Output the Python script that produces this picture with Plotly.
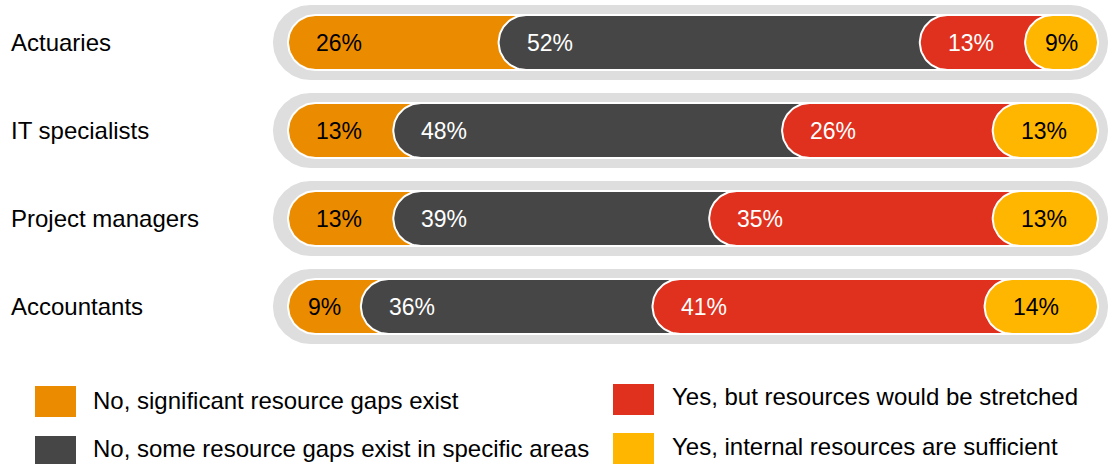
import numpy as np
import plotly.graph_objects as go

# ---- data ---------------------------------------------------------------
categories = ["Actuaries", "IT specialists", "Project managers", "Accountants"]
series_names = [
    "No, significant resource gaps exist",
    "No, some resource gaps exist in specific areas",
    "Yes, but resources would be stretched",
    "Yes, internal resources are sufficient",
]
sig_gaps = [26, 13, 13, 9]
some_gaps = [52, 48, 39, 36]
stretched = [13, 26, 35, 41]
sufficient = [9, 13, 13, 14]

series_values = [sig_gaps, some_gaps, stretched, sufficient]
colors = ["#EB8C00", "#464646", "#E0301E", "#FFB600"]
label_colors = ["#000000", "#FFFFFF", "#FFFFFF", "#000000"]
track_color = "#DEDEDE"

# ---- layout geometry (pixels) -------------------------------------------
W, H = 1109, 464
X0_PX, X100_PX = 288, 1098          # where 0 % and 100 % fall
PXX = (X100_PX - X0_PX) / 100.0     # px per percentage point
ROW0_PX, PXY = 42.5, 88.0           # centre of first row, px per row
BAR_R = 27.5                        # capsule radius of the bars
TRACK_R = 37.5                      # capsule radius of the grey track
TRACK_L_PAD, TRACK_R_PAD = 15, 10   # track overhang beyond the bars

FONT = "Liberation Sans, Arial, sans-serif"

x_range = [(0 - X0_PX) / PXX, (W - X0_PX) / PXX]
y_range = [(H - ROW0_PX) / PXY, (0 - ROW0_PX) / PXY]  # reversed: row 0 on top


def capsule(x0, x1, yc, r_px, n=48):
    """Closed outline of a pill shape in data units, round in screen pixels."""
    rx, ry = r_px / PXX, r_px / PXY
    tl = np.linspace(np.pi / 2, 3 * np.pi / 2, n)
    tr = np.linspace(-np.pi / 2, np.pi / 2, n)
    xs = np.concatenate([x0 + rx + rx * np.cos(tl), x1 - rx + rx * np.cos(tr)])
    ys = np.concatenate([yc + ry * np.sin(tl), yc + ry * np.sin(tr)])
    xs = np.append(xs, xs[0])
    ys = np.append(ys, ys[0])
    return xs, ys


fig = go.Figure()
annotations = []

for row, cat in enumerate(categories):
    # grey background track
    tx, ty = capsule(-TRACK_L_PAD / PXX, 100 + TRACK_R_PAD / PXX, row, TRACK_R)
    fig.add_trace(go.Scatter(
        x=tx, y=ty, mode="lines", fill="toself", fillcolor=track_color,
        line=dict(width=0, color=track_color), hoverinfo="skip", showlegend=False,
    ))

    vals = [s[row] for s in series_values]
    cum = np.concatenate([[0], np.cumsum(vals)])
    n_seg = len(vals)
    for i, v in enumerate(vals):
        start = cum[i]
        end = cum[i + 1]
        if i < n_seg - 1:
            # run on under the next pill so its rounded end sits over this colour
            end = min(end + 2 * BAR_R / PXX, 100)
        sx, sy = capsule(start, end, row, BAR_R)
        fig.add_trace(go.Scatter(
            x=sx, y=sy, mode="lines", fill="toself", fillcolor=colors[i],
            line=dict(width=2, color="#FFFFFF"), hoverinfo="skip", showlegend=False,
        ))
        annotations.append(dict(
            x=start + min(6.3, v / 2), y=row, xref="x", yref="y",
            text=f"{v}%", showarrow=False, xanchor="center", yanchor="middle",
            font=dict(family=FONT, size=23, color=label_colors[i]),
        ))

    annotations.append(dict(
        x=9 / W, y=row, xref="paper", yref="y", text=cat, showarrow=False,
        xanchor="left", yanchor="middle",
        font=dict(family=FONT, size=24, color="#000000"),
    ))

# ---- legend (two columns of swatches + text) -----------------------------
legend_items = [
    # (swatch x0, y0, x1, y1, text x, text centre y) in pixels
    (35, 386, 76, 417, 91, 400),
    (35, 436, 76, 467, 91, 448),
    (613, 384, 654, 415, 670, 396),
    (613, 433, 654, 464, 670, 446),
]
shapes = []
for (x0, y0, x1, y1, tx_, ty_), name, col in zip(legend_items, series_names, colors):
    shapes.append(dict(
        type="rect", xref="paper", yref="paper",
        x0=x0 / W, x1=x1 / W, y0=1 - y1 / H, y1=1 - y0 / H,
        fillcolor=col, line=dict(width=0),
    ))
    annotations.append(dict(
        x=tx_ / W, y=1 - ty_ / H, xref="paper", yref="paper", text=name,
        showarrow=False, xanchor="left", yanchor="middle",
        font=dict(family=FONT, size=24, color="#000000"),
    ))

axis_off = dict(showgrid=False, zeroline=False, showticklabels=False,
                showline=False, ticks="", fixedrange=True)
fig.update_layout(
    width=W, height=H, margin=dict(l=0, r=0, t=0, b=0),
    paper_bgcolor="#FFFFFF", plot_bgcolor="#FFFFFF",
    xaxis=dict(range=x_range, domain=[0, 1], **axis_off),
    yaxis=dict(range=y_range, domain=[0, 1], **axis_off),
    shapes=shapes, annotations=annotations, showlegend=False,
)

fig.write_html("out.html", config={"displayModeBar": False})
